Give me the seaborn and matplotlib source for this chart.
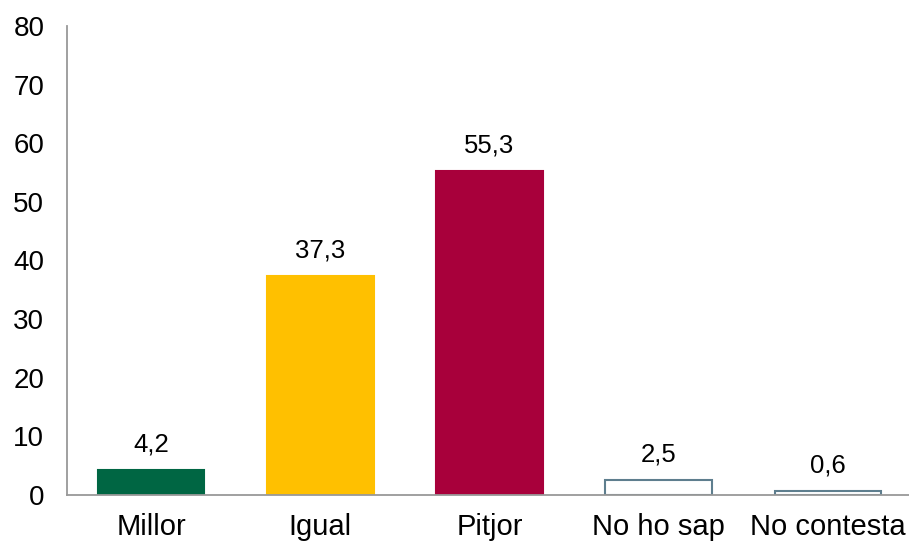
import matplotlib
matplotlib.use("Agg")
import matplotlib.pyplot as plt
import seaborn as sns
import pandas as pd

categories = ["Millor", "Igual", "Pitjor", "No ho sap", "No contesta"]
values = [4.2, 37.3, 55.3, 2.5, 0.6]
labels = ["4,2", "37,3", "55,3", "2,5", "0,6"]
colors = ["#006643", "#FFC000", "#A8003B", "#FFFFFF", "#FFFFFF"]
edges = ["#006643", "#FFC000", "#A8003B", "#5E7E8E", "#5E7E8E"]

sns.set_style("white")
plt.rcParams['font.family'] = ['Liberation Sans', 'DejaVu Sans']

df = pd.DataFrame({"cat": categories, "val": values})
fig = plt.figure(figsize=(9.09, 5.46), dpi=100)
ax = fig.add_axes([66.5/909, 1-495/546, 846/909, (495-26)/546])
sns.barplot(data=df, x="cat", y="val", hue="cat", palette=colors, width=0.63,
            legend=False, ax=ax, saturation=1)
for p, ec in zip(ax.patches, edges):
    p.set_edgecolor(ec)
    p.set_linewidth(1.5)
for p, lab in zip(ax.patches, labels):
    ax.text(p.get_x() + p.get_width()/2, p.get_height() + 2.3, lab,
            ha="center", va="bottom", fontsize=18.5, color="black")
ax.set_ylim(0, 80)
ax.set_xlim(-0.5, 4.5)
ax.set_yticks(range(0, 81, 10))
ax.set_xlabel("")
ax.set_ylabel("")
ax.tick_params(axis="both", length=0, colors="black")
ax.tick_params(axis="y", labelsize=20, pad=16)
ax.tick_params(axis="x", labelsize=21, pad=13)
for s in ["top", "right"]:
    ax.spines[s].set_visible(False)
for s in ["left", "bottom"]:
    ax.spines[s].set_color("#999999")
    ax.spines[s].set_linewidth(1.3)
fig.savefig("out.png", dpi=100)
